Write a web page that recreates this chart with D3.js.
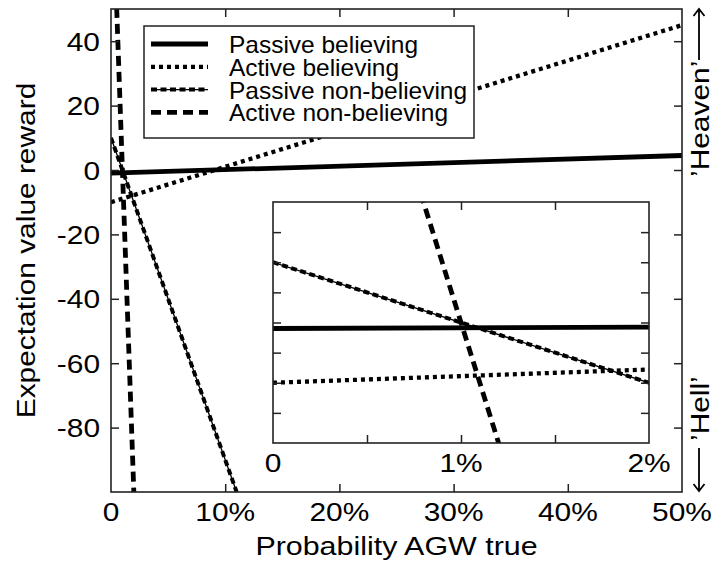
<!DOCTYPE html>
<html>
<head>
<meta charset="utf-8">
<script src="https://cdn.jsdelivr.net/npm/d3@7"></script>
<style>
  body { margin: 0; background: #fff; }
  svg text { font-family: "Liberation Sans", Arial, Helvetica, sans-serif; fill: #000; }
</style>
</head>
<body>
<svg id="chart" width="714" height="564"></svg>
<script>
// values (probability AGW true -> expectation value reward)
var pbProb = [0, 0.5];
var pbValues = [-1, 4.5];          // Passive believing
var abProb = [0, 0.5];
var abValues = [-10, 45];          // Active believing
var pnbProb = [0, 0.11];
var pnbValues = [10, -100];        // Passive non-believing
var anbProb = [0, 0.02];
var anbValues = [100, -100];       // Active non-believing

var seriesNames = ["Passive believing", "Active believing", "Passive non-believing", "Active non-believing"];

var xTicks = [0, 0.1, 0.2, 0.3, 0.4, 0.5];
var xTickLabels = ["0", "10%", "20%", "30%", "40%", "50%"];
var yTicks = [-80, -60, -40, -20, 0, 20, 40];
var yTickLabels = ["-80", "-60", "-40", "-20", "0", "20", "40"];

var insetXTicks = [0, 0.005, 0.01, 0.015, 0.02];
var insetXLabelTicks = [0, 0.01, 0.02];
var insetXLabels = ["0", "1%", "2%"];
var insetYTicks = [-15, -10, -5, 0, 5, 10, 15];

var svg = d3.select("#chart");
var sx = 1.15;   // the original font runs wider than Arial

var x = d3.scaleLinear().domain([0, 0.5]).range([111, 682]);
var y = d3.scaleLinear().domain([-100, 50]).range([492, 9]);

var ix = d3.scaleLinear().domain([0, 0.02]).range([273, 649]);
var iy = d3.scaleLinear().domain([-20, 20]).range([443, 202]);

// each series: points + style
function pts(p, v) { return p.map(function(d, i) { return [d, v[i]]; }); }
var series = [
  {name: seriesNames[0], data: pts(pbProb, pbValues), width: 4.8, dash: null, thin: false},
  {name: seriesNames[1], data: pts(abProb, abValues), width: 4.3, dash: "4,4", thin: false},
  {name: seriesNames[2], data: pts(pnbProb, pnbValues), width: 4, dash: "6,3.5", thin: true},
  {name: seriesNames[3], data: pts(anbProb, anbValues), width: 4.8, dash: "10,6", thin: false}
];

var defs = svg.append("defs");
defs.append("clipPath").attr("id", "mainClip").append("rect")
  .attr("x", x(0)).attr("y", y(50)).attr("width", x(0.5) - x(0)).attr("height", y(-100) - y(50));
defs.append("clipPath").attr("id", "insetClip").append("rect")
  .attr("x", ix(0)).attr("y", iy(20)).attr("width", ix(0.02) - ix(0)).attr("height", iy(-20) - iy(20));

function drawLines(g, xs, ys, clip) {
  var line = d3.line().x(function(d) { return xs(d[0]); }).y(function(d) { return ys(d[1]); });
  var lg = g.append("g").attr("clip-path", "url(#" + clip + ")");
  series.forEach(function(s) {
    if (s.thin) {
      lg.append("path").attr("d", line(s.data)).attr("fill", "none")
        .attr("stroke", "#000").attr("stroke-width", 1.3);
    }
    lg.append("path").attr("d", line(s.data)).attr("fill", "none")
      .attr("stroke", "#000").attr("stroke-width", s.width)
      .attr("stroke-dasharray", s.dash);
  });
}

function label(g, px, py, str, size, anchor, rot, scale) {
  return g.append("text")
    .attr("transform", "translate(" + px + "," + py + ") rotate(" + (rot || 0) + ") scale(" + (scale || 1) + ",1)")
    .attr("text-anchor", anchor)
    .style("font-size", size + "px")
    .text(str);
}

// ---- main plot
var main = svg.append("g");
drawLines(main, x, y, "mainClip");

var tickLen = 8;
main.append("g").attr("transform", "translate(" + x(0) + ",0)")
  .call(d3.axisRight(y).tickValues(yTicks).tickSizeInner(tickLen).tickSizeOuter(0).tickFormat(""));
main.append("g").attr("transform", "translate(" + x(0.5) + ",0)")
  .call(d3.axisLeft(y).tickValues(yTicks).tickSizeInner(tickLen).tickSizeOuter(0).tickFormat(""));
main.append("g").attr("transform", "translate(0," + y(-100) + ")")
  .call(d3.axisTop(x).tickValues(xTicks.slice(1, 5)).tickSizeInner(tickLen).tickSizeOuter(0).tickFormat(""));
main.append("g").attr("transform", "translate(0," + y(50) + ")")
  .call(d3.axisBottom(x).tickValues(xTicks.slice(1, 5)).tickSizeInner(tickLen).tickSizeOuter(0).tickFormat(""));
main.selectAll(".domain").remove();
main.selectAll(".tick line").attr("stroke", "#222").attr("stroke-width", 1.5);

main.append("rect")
  .attr("x", x(0)).attr("y", y(50)).attr("width", x(0.5) - x(0)).attr("height", y(-100) - y(50))
  .attr("fill", "none").attr("stroke", "#222").attr("stroke-width", 1.6);

yTicks.forEach(function(t, i) {
  label(main, 100, y(t) + 9.5, yTickLabels[i], 26, "end", 0, sx);
});
xTicks.forEach(function(t, i) {
  label(main, x(t), 521, xTickLabels[i], 26, "middle", 0, sx);
});
label(main, (x(0) + x(0.5)) / 2, 555, "Probability AGW true", 26, "middle", 0, 1.17);
label(main, 35, (y(50) + y(-100)) / 2, "Expectation value reward", 26, "middle", -90, sx);

// right side heaven / hell labels with arrows
label(main, 709, 177, "\u2019Heaven\u2019", 26, "start", -90, sx);
label(main, 709, 441, "\u2019Hell\u2019", 26, "start", -90, sx);

function arrow(x0, yFrom, yTo) {
  var dir = yTo < yFrom ? 1 : -1;
  main.append("path")
    .attr("d", "M" + x0 + "," + yFrom + "V" + yTo +
      "M" + (x0 - 5.5) + "," + (yTo + dir * 7) + "L" + x0 + "," + yTo + "L" + (x0 + 5.5) + "," + (yTo + dir * 7))
    .attr("fill", "none").attr("stroke", "#000").attr("stroke-width", 1.8);
}
arrow(699, 60, 9);
arrow(699, 448, 491);

// legend
var legend = svg.append("g");
legend.append("rect").attr("x", 144).attr("y", 26).attr("width", 330).attr("height", 112)
  .attr("fill", "#fff").attr("stroke", "#222").attr("stroke-width", 1.5);
series.forEach(function(s, i) {
  var base = 53 + i * 22.8;
  var ly = base - 9;
  if (s.thin) {
    legend.append("line").attr("x1", 151).attr("x2", 208).attr("y1", ly).attr("y2", ly)
      .attr("stroke", "#000").attr("stroke-width", 1.3);
  }
  legend.append("line").attr("x1", 151).attr("x2", 208).attr("y1", ly).attr("y2", ly)
    .attr("stroke", "#000").attr("stroke-width", s.width).attr("stroke-dasharray", s.dash);
  label(legend, 229, base, s.name, 24, "start", 0, 1.02);
});

// ---- inset
var inset = svg.append("g");
inset.append("rect")
  .attr("x", ix(0)).attr("y", iy(20)).attr("width", ix(0.02) - ix(0)).attr("height", iy(-20) - iy(20))
  .attr("fill", "#fff");
drawLines(inset, ix, iy, "insetClip");

inset.append("g").attr("transform", "translate(" + ix(0) + ",0)")
  .call(d3.axisRight(iy).tickValues(insetYTicks).tickSizeInner(tickLen).tickSizeOuter(0).tickFormat(""));
inset.append("g").attr("transform", "translate(" + ix(0.02) + ",0)")
  .call(d3.axisLeft(iy).tickValues(insetYTicks).tickSizeInner(tickLen).tickSizeOuter(0).tickFormat(""));
inset.append("g").attr("transform", "translate(0," + iy(-20) + ")")
  .call(d3.axisTop(ix).tickValues(insetXTicks.slice(1, 4)).tickSizeInner(tickLen).tickSizeOuter(0).tickFormat(""));
inset.append("g").attr("transform", "translate(0," + iy(20) + ")")
  .call(d3.axisBottom(ix).tickValues(insetXTicks.slice(1, 4)).tickSizeInner(tickLen).tickSizeOuter(0).tickFormat(""));
inset.selectAll(".domain").remove();
inset.selectAll(".tick line").attr("stroke", "#222").attr("stroke-width", 1.5);

inset.append("rect")
  .attr("x", ix(0)).attr("y", iy(20)).attr("width", ix(0.02) - ix(0)).attr("height", iy(-20) - iy(20))
  .attr("fill", "none").attr("stroke", "#222").attr("stroke-width", 1.6);

insetXLabelTicks.forEach(function(t, i) {
  label(inset, ix(t), 472, insetXLabels[i], 26, "middle", 0, sx);
});
</script>
</body>
</html>
